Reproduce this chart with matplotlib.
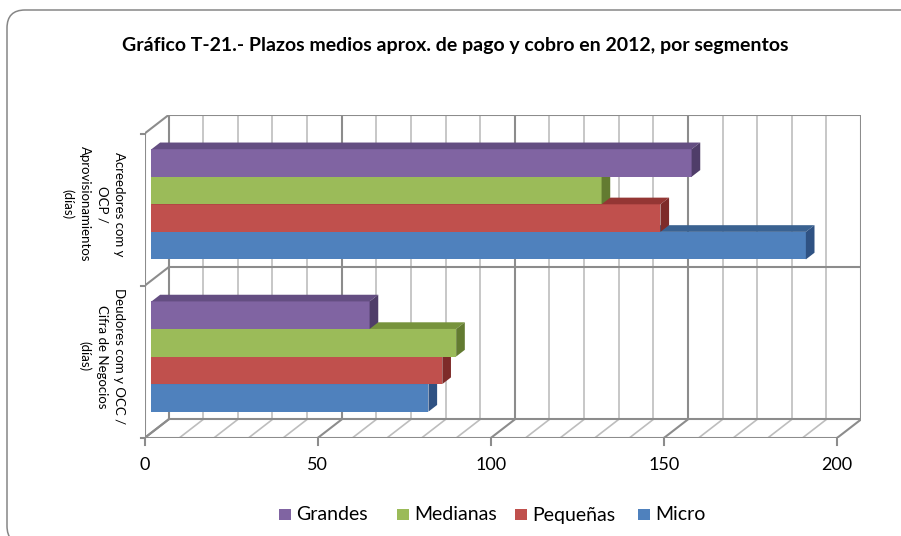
import matplotlib
matplotlib.use("Agg")
import matplotlib.pyplot as plt
from matplotlib.patches import Polygon, FancyBboxPatch, Rectangle

# ---------------------------------------------------------------------
# Data (días)
# ---------------------------------------------------------------------
categories = ["Deudores com y OCC /\nCifra de Negocios\n(días)",
              "Acreedores com y\nOCP /\nAprovisionamientos\n(días)"]
series = ["Micro", "Pequeñas", "Medianas", "Grandes"]
micro = [80, 189]
pequenas = [84, 147]
medianas = [88, 130]
grandes = [63, 156]
x_ticks = [0, 50, 100, 150, 200]

values = [micro, pequenas, medianas, grandes]
# front / top / side face colours of each series
face_colors = {
    "Micro":    ("#4F81BD", "#3A6291", "#2F5283"),
    "Pequeñas": ("#C0504D", "#943634", "#7E2B29"),
    "Medianas": ("#9BBB59", "#77933C", "#637B31"),
    "Grandes":  ("#8064A2", "#644E82", "#4F3D69"),
}

plt.rcParams["font.family"] = ["Lato", "DejaVu Sans"]

W, H = 901, 536
fig = plt.figure(figsize=(W / 100, H / 100), dpi=100)
ax = fig.add_axes([0.1604, 0.1828, 0.7952, 0.6026])

DX, DY = 6.94, 0.122      # depth of the 3d box, in data units
XMAX = 200
ax.set_xlim(0, XMAX + DX)
ax.set_ylim(0, len(categories) + DY)
ax.axis("off")

# ---------------------------------------------------------------------
# Walls, floor and gridlines
# ---------------------------------------------------------------------
minor_c, major_c = "#BDBDBD", "#8C8C8C"
for v in range(0, XMAX + 1, 10):
    major = v % 50 == 0
    c = major_c if major else minor_c
    lw = 1.5 if major else 1.2
    ax.plot([v + DX, v + DX], [DY, len(categories) + DY], color=c, lw=lw,
            zorder=1, solid_capstyle="butt")
    ax.plot([v, v + DX], [0, DY], color=c, lw=lw, zorder=1)

for y in range(len(categories) + 1):
    ax.plot([DX, XMAX + DX], [y + DY, y + DY], color=major_c, lw=1.5, zorder=1)
    ax.plot([0, DX], [y, y + DY], color=major_c, lw=1.5, zorder=1)
    ax.plot([-1.0, 0], [y, y], color=major_c, lw=1.5, zorder=1, clip_on=False)

ax.plot([0, XMAX], [0, 0], color=major_c, lw=1.5, zorder=1)
ax.plot([0, 0], [0, len(categories)], color=major_c, lw=1.5, zorder=1)

for v in x_ticks:
    ax.plot([v, v], [0, -0.045], color=major_c, lw=1.5, zorder=1, clip_on=False)
    ax.text(v, -0.18, str(v), ha="center", va="center", fontsize=13,
            color="#000000")

# ---------------------------------------------------------------------
# 3d bars
# ---------------------------------------------------------------------
h = 0.181            # bar thickness
z0, z1 = 0.29, 0.65  # bar depth range inside the box
bx, by = (z1 - z0) * DX, (z1 - z0) * DY

for ci in range(len(categories)):
    center = ci + 0.5
    for si, name in enumerate(series):
        val = values[si][ci]
        front, top, side = face_colors[name]
        x0 = z0 * DX
        y0 = center - 2 * h + si * h + z0 * DY
        x1 = x0 + val
        z = 3 + ci * 10 + si
        ax.barh(y0, val, height=h, left=x0, align="edge", color=front,
                linewidth=0, zorder=z)
        ax.add_patch(Polygon([(x0, y0 + h), (x1, y0 + h),
                              (x1 + bx, y0 + h + by), (x0 + bx, y0 + h + by)],
                             closed=True, facecolor=top, lw=0, zorder=z))
        ax.add_patch(Polygon([(x1, y0), (x1 + bx, y0 + by),
                              (x1 + bx, y0 + h + by), (x1, y0 + h)],
                             closed=True, facecolor=side, lw=0, zorder=z))

for ci, label in enumerate(categories):
    ax.text(-5.6, ci + 0.5 + 0.3 * DY, label, rotation=-90, ha="right",
            va="center", multialignment="center", fontsize=9.5,
            linespacing=1.5, clip_on=False)

# ---------------------------------------------------------------------
# Title, legend, border
# ---------------------------------------------------------------------
fig.text(455 / W, 1 - 45 / H,
         "Gráfico T-21.- Plazos medios aprox. de pago y cobro en 2012, por segmentos",
         ha="center", va="center", fontsize=14, fontweight="bold")

# legend drawn by hand (pixel positions of each entry)
legend_x = [279, 397, 515, 638]
for name, lx in zip(series[::-1], legend_x):
    fig.patches.append(Rectangle((lx, H - 520), 11.5, 11.5, transform=None,
                                 facecolor=face_colors[name][0], lw=0))
    fig.text((lx + 17) / W, 1 - 520.5 / H, name, ha="left", va="baseline",
             fontsize=14)

fig.patches.append(FancyBboxPatch((7, -8), 930, H - 10 + 8,
                                  boxstyle="round,pad=0,rounding_size=18",
                                  transform=None, facecolor="none",
                                  edgecolor="#868686", lw=1.1))

fig.savefig("out.png", dpi=100)
